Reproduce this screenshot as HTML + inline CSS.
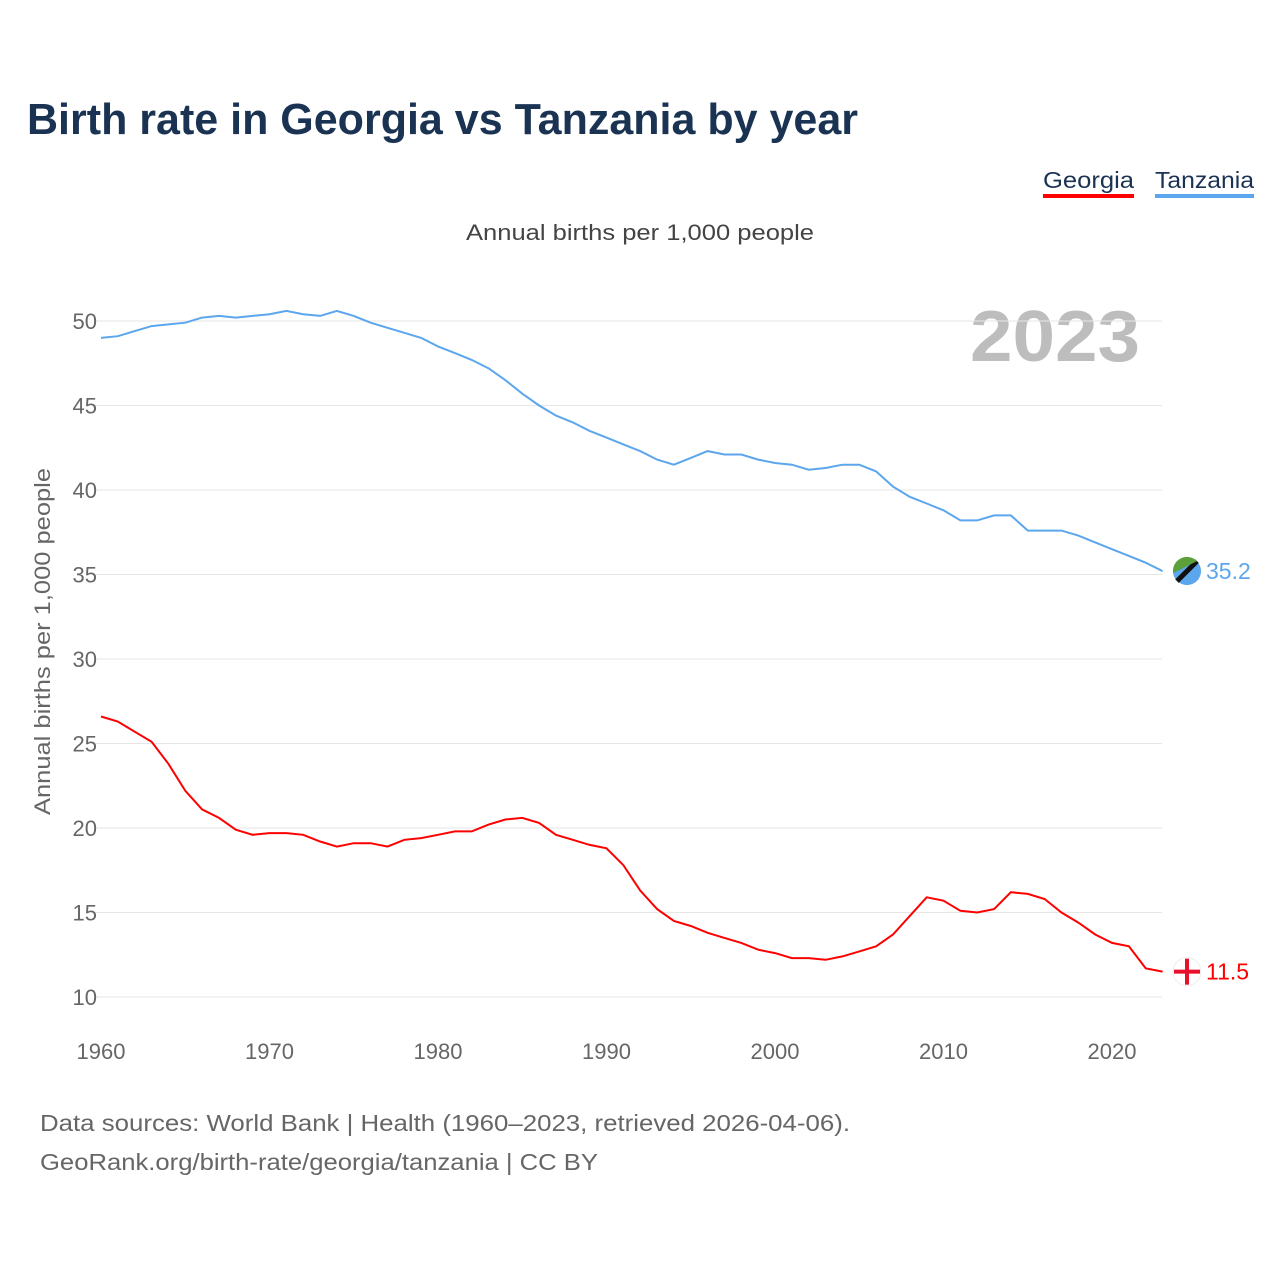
<!DOCTYPE html>
<html><head><meta charset="utf-8">
<style>
body{margin:0;background:#fff;font-family:"Liberation Sans",sans-serif;}
#wrap{position:relative;width:1280px;height:1280px;overflow:hidden;}
</style></head>
<body><div id="wrap">
<svg id="chart" width="1280" height="1280" style="position:absolute;left:0;top:0">
<text x="27" y="134" font-size="44" font-weight="bold" fill="#1b3353" textLength="831" lengthAdjust="spacingAndGlyphs">Birth rate in Georgia vs Tanzania by year</text>
<g><text x="1043" y="188" font-size="23" fill="#1b3353" textLength="91" lengthAdjust="spacingAndGlyphs">Georgia</text><rect x="1043" y="194" width="91" height="4" fill="#ff0000"/></g>
<g><text x="1155" y="188" font-size="23" fill="#1b3353" textLength="99" lengthAdjust="spacingAndGlyphs">Tanzania</text><rect x="1155" y="194" width="99" height="4" fill="#5ba6ec"/></g>
<text x="466" y="240" font-size="22" fill="#444" textLength="348" lengthAdjust="spacingAndGlyphs">Annual births per 1,000 people</text>
<text x="970" y="361" font-size="72" font-weight="bold" fill="#bdbdbd" textLength="170" lengthAdjust="spacingAndGlyphs">2023</text>
<text transform="translate(50,815) rotate(-90)" font-size="22" fill="#666" textLength="347" lengthAdjust="spacingAndGlyphs">Annual births per 1,000 people</text>
<g id="grid"></g><g id="xt"></g><g id="lines"></g>
<text x="40" y="1131" font-size="23" fill="#666" textLength="810" lengthAdjust="spacingAndGlyphs">Data sources: World Bank | Health (1960–2023, retrieved 2026-04-06).</text>
<text x="40" y="1170" font-size="23" fill="#666" textLength="558" lengthAdjust="spacingAndGlyphs">GeoRank.org/birth-rate/georgia/tanzania | CC BY</text>
</svg></div>
<script>
const years=[];for(let y=1960;y<=2023;y++)years.push(y);
const tanzania=[49.0,49.1,49.4,49.7,49.8,49.9,50.2,50.3,50.2,50.3,50.4,50.6,50.4,50.3,50.6,50.3,49.9,49.6,49.3,49.0,48.5,48.1,47.7,47.2,46.5,45.7,45.0,44.4,44.0,43.5,43.1,42.7,42.3,41.8,41.5,41.9,42.3,42.1,42.1,41.8,41.6,41.5,41.2,41.3,41.5,41.5,41.1,40.2,39.6,39.2,38.8,38.2,38.2,38.5,38.5,37.6,37.6,37.6,37.3,36.9,36.5,36.1,35.7,35.2];
const georgia=[26.6,26.3,25.7,25.1,23.8,22.2,21.1,20.6,19.9,19.6,19.7,19.7,19.6,19.2,18.9,19.1,19.1,18.9,19.3,19.4,19.6,19.8,19.8,20.2,20.5,20.6,20.3,19.6,19.3,19.0,18.8,17.8,16.3,15.2,14.5,14.2,13.8,13.5,13.2,12.8,12.6,12.3,12.3,12.2,12.4,12.7,13.0,13.7,14.8,15.9,15.7,15.1,15.0,15.2,16.2,16.1,15.8,15.0,14.4,13.7,13.2,13.0,11.7,11.5];
const yTicks=[10,15,20,25,30,35,40,45,50];
const xTicks=[1960,1970,1980,1990,2000,2010,2020];
const NS="http://www.w3.org/2000/svg";
const X=v=>101+(v-1960)*(1011/60);
const Y=v=>997-(v-10)*(676/40);
function mk(tag,attrs,parent,txt){const e=document.createElementNS(NS,tag);for(const k in attrs)e.setAttribute(k,attrs[k]);if(txt!==undefined)e.textContent=txt;parent.appendChild(e);return e;}
const grid=document.getElementById('grid'),xt=document.getElementById('xt'),lines=document.getElementById('lines');
yTicks.forEach(t=>{
 const l=mk('line',{x1:95,x2:1162,y1:Y(t),y2:Y(t),stroke:'#e6e6e6','stroke-width':1},grid);
 
 
 const tx=mk('text',{x:97,y:Y(t)+8,'text-anchor':'end','font-size':22,fill:'#666'},grid,t);
 
 
});
xTicks.forEach(t=>{
 const tx=mk('text',{x:X(t),y:1059,'text-anchor':'middle','font-size':22,fill:'#666'},xt,t);
 
 
});
function series(vals,color,name){
 const d=vals.map((v,i)=>(i?'L':'M')+X(years[i]).toFixed(1)+' '+Y(v).toFixed(1)).join(' ');
 const p=mk('path',{d:d,fill:'none',stroke:color,'stroke-width':2},lines);
 
 
 const last=vals[vals.length-1],ly=Y(last);
 const c=mk('circle',{cx:1187,cy:ly,r:14,fill:color},lines);
 
 
 if(name==='tanzania'){mk('line',{x1:1177,y1:ly+10,x2:1197,y2:ly-10,stroke:'#111','stroke-width':5},lines);mk('path',{d:`M1173 ${ly} A14 14 0 0 1 1197 ${ly-10} L1173 ${ly+2}Z`,fill:'#5da03a'},lines);}
 else{c.setAttribute('fill','#fff');c.setAttribute('stroke','#eee');mk('rect',{x:1185,y:ly-13,width:4,height:26,fill:'#e8112d'},lines);mk('rect',{x:1174,y:ly-2,width:26,height:4,fill:'#e8112d'},lines);}
 const t=mk('text',{x:1206,y:ly+8,'font-size':23,fill:color},lines,last.toFixed(1));
 
 
}
series(tanzania,'#5ba6ec','tanzania');
series(georgia,'#ff0000','georgia');
</script>
</body></html>
